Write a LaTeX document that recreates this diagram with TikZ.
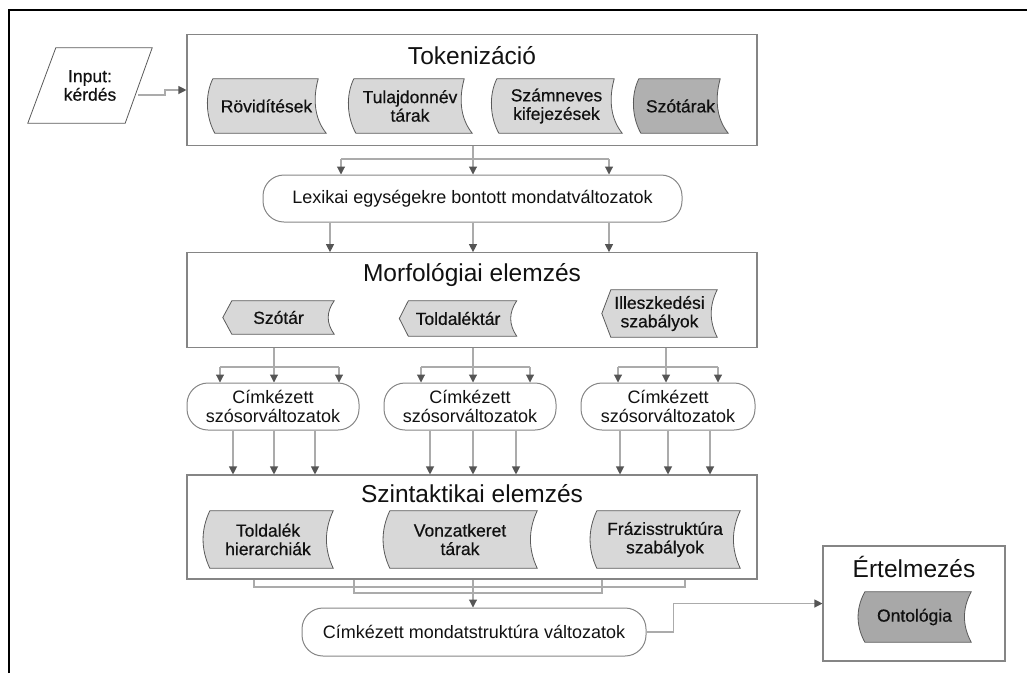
\documentclass[tikz,border=0pt]{standalone}
\usepackage{fontspec}
\setmainfont{Liberation Sans}
\newfontfamily\semifont[FakeBold=0.5]{Liberation Sans}
\usetikzlibrary{arrows.meta,calc,backgrounds}
\definecolor{boxline}{HTML}{858585}
\definecolor{shpline}{HTML}{5A5A5A}
\definecolor{lightfill}{HTML}{D8D8D8}
\definecolor{darkfill}{HTML}{B0B0B0}
\definecolor{ontofill}{HTML}{A8A8A8}
\definecolor{connline}{HTML}{ABABAB}
\definecolor{tipgray}{HTML}{555555}
\definecolor{txt}{HTML}{111111}
% stored data, skewed (tokenization)
\newcommand\shpA[2]{%
\begin{pgfonlayer}{background}
\path[shp,fill=#2] let \p1=(#1.north west), \p2=(#1.south east) in
 (\x1+6pt,\y1) -- (\x2-8pt,\y1)
 .. controls (\x2-14pt,{\y1+0.4*(\y2-\y1)}) and (\x2-11pt,{\y1+0.75*(\y2-\y1)}) .. (\x2,\y2)
 -- (\x1+8pt,\y2)
 .. controls (\x1-1pt,{\y1+0.7*(\y2-\y1)}) and (\x1-2pt,{\y1+0.3*(\y2-\y1)}) .. cycle;
\end{pgfonlayer}}
% stored data, symmetric
\newcommand\shpB[2]{%
\begin{pgfonlayer}{background}
\path[shp,fill=#2] let \p1=(#1.north west), \p2=(#1.south east) in
 (\x1+7pt,\y1) -- (\x2,\y1)
 .. controls (\x2-9pt,{\y1+0.33*(\y2-\y1)}) and (\x2-9pt,{\y1+0.67*(\y2-\y1)}) .. (\x2,\y2)
 -- (\x1+7pt,\y2)
 .. controls (\x1-2pt,{\y1+0.67*(\y2-\y1)}) and (\x1-2pt,{\y1+0.33*(\y2-\y1)}) .. cycle;
\end{pgfonlayer}}
% display-like (pointed left)
\newcommand\shpC[2]{%
\begin{pgfonlayer}{background}
\path[shp,fill=#2] let \p1=(#1.north west), \p2=(#1.south east) in
 (\x1+9pt,\y1) -- (\x2,\y1)
 .. controls (\x2-8pt,{\y1+0.33*(\y2-\y1)}) and (\x2-8pt,{\y1+0.67*(\y2-\y1)}) .. (\x2,\y2)
 -- (\x1+9pt,\y2) -- (\x1,{0.5*(\y1+\y2)}) -- cycle;
\end{pgfonlayer}}
\begin{document}
\begin{tikzpicture}[x=1pt,y=-1pt,
  cont/.style={draw=boxline, line width=1.1pt, minimum width=570pt, inner sep=0pt},
  ttl/.style={font=\fontsize{24.5}{27}\selectfont, text=txt, inner sep=0pt},
  lbl/.style={font=\fontsize{18}{19}\selectfont, text=txt, align=center, inner sep=0pt},
  slbl/.style={lbl, font=\semifont\fontsize{17.5}{18.5}\selectfont},
  stad/.style={lbl, draw=boxline, line width=1pt, rounded corners=21pt},
  conn/.style={draw=connline, line width=1.1pt, -{Triangle[length=8pt,width=8pt,color=tipgray]}},
  gl/.style={draw=connline, line width=1.1pt},
  shp/.style={draw=shpline, line width=0.8pt},
]
\useasboundingbox (0,0) rectangle (1027,673);
\draw[line width=1.3pt] (9,673) -- (9,10) -- (1027,10);

% Input
\node[slbl, minimum width=124pt, minimum height=75pt] (inp) at (90,85.5) {Input:\\kérdés};
\draw[shp] ($(inp.north west)+(28,0)$) -- (inp.north east) -- ($(inp.south east)+(-27,0)$) -- (inp.south west) -- cycle;

% Tokenizacio
\node[cont, minimum height=111.4pt] (tok) at (472,90) {};
\node[ttl] (toktitle) at (472,56) {Tokenizáció};
\node[slbl, minimum width=119pt, minimum height=54pt] (rov) at (266.5,106) {Rövidítések};
\node[slbl, minimum width=124pt, minimum height=54pt] (tul) at (410,106) {Tulajdonnév\\tárak};
\node[slbl, minimum width=131pt, minimum height=54pt] (szam) at (556.5,106) {Számneves\\kifejezések};
\node[slbl, minimum width=95pt, minimum height=54pt] (szot) at (680.5,106) {Szótárak};
\shpA{rov}{lightfill}\shpA{tul}{lightfill}\shpA{szam}{lightfill}\shpA{szot}{darkfill}

\coordinate (inpR) at (138,95);
\draw[conn] (inpR) -- ++(27,0) |- (tok.west);

% Lexikai
\node[stad, minimum width=419pt, minimum height=47pt] (lex) at (472.5,198.5) {Lexikai egységekre bontott mondatváltozatok};
\coordinate (bus1) at (473,159);
\coordinate (k1) at (341,159);
\coordinate (k3) at (609,159);
\draw[gl] (bus1 |- tok.south) -- (bus1);
\draw[gl] (k1) -- (k3);
\foreach \c in {k1,bus1,k3} \draw[conn] (\c) -- (\c |- lex.north);

% Morfologiai
\node[cont, minimum height=95pt] (mor) at (472,300.2) {};
\node[ttl] (mortitle) at (472,275) {Morfológiai elemzés};
\node[slbl, minimum width=111pt, minimum height=33pt] (szotar) at (278.5,317.5) {Szótár};
\node[slbl, minimum width=117pt, minimum height=35pt] (told) at (458,318.5) {Toldaléktár};
\node[slbl, minimum width=115pt, minimum height=47pt] (illesz) at (659.5,313.5) {Illeszkedési\\szabályok};
\shpC{szotar}{lightfill}\shpC{told}{lightfill}\shpC{illesz}{lightfill}

\foreach \x [count=\i] in {330,473,609} {
  \coordinate (l\i) at (\x,0);
  \draw[conn] (l\i |- lex.south) -- (l\i |- mor.north);
}

% Cimkezett szosorvaltozatok
\node[stad, minimum width=172pt, minimum height=47pt] (cim1) at (273,406.5) {Címkézett\\szósorváltozatok};
\node[stad, minimum width=172pt, minimum height=47pt] (cim2) at (470,406.5) {Címkézett\\szósorváltozatok};
\node[stad, minimum width=174pt, minimum height=47pt] (cim3) at (668,406.5) {Címkézett\\szósorváltozatok};

\foreach \g/\a/\b/\c in {1/220/274/339, 2/421/473/530, 3/618/666/718} {
  \coordinate (ma\g) at (\a,367);
  \coordinate (mb\g) at (\b,367);
  \coordinate (mc\g) at (\c,367);
  \draw[gl] (mb\g |- mor.south) -- (mb\g);
  \draw[gl] (ma\g) -- (mc\g);
  \foreach \n in {ma,mb,mc} \draw[conn] (\n\g) -- (\n\g |- cim\g.north);
}

% Szintaktikai
\node[cont, minimum height=104pt] (szin) at (472,527) {};
\node[ttl] (szintitle) at (472,494) {Szintaktikai elemzés};
\node[slbl, minimum width=130pt, minimum height=57pt] (toldh) at (268,539.5) {Toldalék\\hierarchiák};
\node[slbl, minimum width=154pt, minimum height=57pt] (vonz) at (460,539.5) {Vonzatkeret\\tárak};
\node[slbl, minimum width=150pt, minimum height=57pt] (fraz) at (665,539.5) {Frázisstruktúra\\szabályok};
\shpB{toldh}{lightfill}\shpB{vonz}{lightfill}\shpB{fraz}{lightfill}

\foreach \g/\a/\b/\c in {1/233/274/315, 2/430/473/516, 3/620/668/710} {
  \foreach \x [count=\j] in {\a,\b,\c} {
    \coordinate (d\g\j) at (\x,0);
    \draw[conn] (d\g\j |- cim\g.south) -- (d\g\j |- szin.north);
  }
}

% Cimkezett mondatstruktura
\node[stad, minimum width=344pt, minimum height=48pt] (mst) at (474,632) {Címkézett mondatstruktúra változatok};
\coordinate (o1) at (254,587); \coordinate (o2) at (685,587);
\coordinate (i1) at (354,593); \coordinate (i2) at (602,593);
\draw[gl] (o1 |- szin.south) -- (o1) -- (o2) -- (o2 |- szin.south);
\draw[gl] (i1 |- szin.south) -- (i1) -- (i2) -- (i2 |- szin.south);
\coordinate (sz) at (473,0);
\draw[conn] (sz |- szin.south) -- (sz |- mst.north);

% Ertelmezes
\node[draw=boxline, line width=1.1pt, inner sep=0pt, minimum width=182pt, minimum height=115pt] (ert) at (914,603.5) {};
\node[ttl] (erttitle) at (914,567) {Értelmezés};
\node[slbl, minimum width=113pt, minimum height=50pt] (onto) at (914.5,617) {Ontológia};
\shpB{onto}{ontofill}

\draw[conn] (mst.east) -- ++(27,0) |- (ert.west);
\end{tikzpicture}
\end{document}
